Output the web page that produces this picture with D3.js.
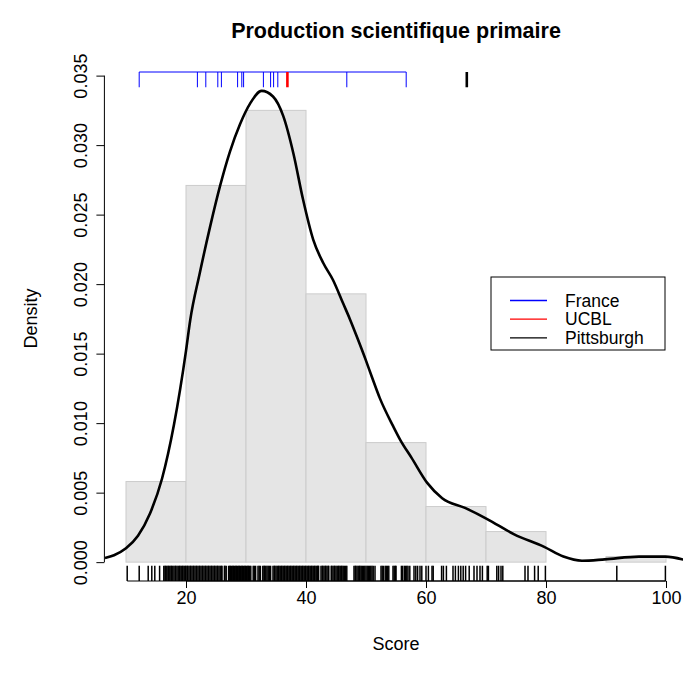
<!DOCTYPE html>
<html>
<head>
<meta charset="utf-8">
<script src="https://cdn.jsdelivr.net/npm/d3@7"></script>
<style>
  body { margin: 0; background: #fff; }
  text { font-family: "Liberation Sans", Arial, sans-serif; }
</style>
</head>
<body>
<script>
// histogram (breaks and densities)
var histBreaks = [10, 20, 30, 40, 50, 60, 70, 80, 90, 100];
var histDensity = [0.0058, 0.0271, 0.0325, 0.0193, 0.0086, 0.0040, 0.0022, 0, 0.0004];

// kernel density curve: score / density
var densX = [6.5, 8, 10, 12, 14, 16, 18, 20, 20.7, 22.3, 24.0, 25.7, 27.3, 29.0, 30.7, 32.6, 34.5, 36.2, 37.9, 39.5, 41.2, 42.9, 44.5, 46.2, 47.3, 48.5, 50.0, 51.0, 52.3, 54.5, 55.7, 57.6, 60.2, 62.7, 66.5, 70.2, 74.7, 79.7, 82.9, 86.0, 89.8, 95.5, 99.9, 103.6];
var densY = [0.0003, 0.0005, 0.0010, 0.0019, 0.0035, 0.0060, 0.0099, 0.0152, 0.0174, 0.0208, 0.0241, 0.0271, 0.0295, 0.0315, 0.0330, 0.0339, 0.0335, 0.0321, 0.0294, 0.0261, 0.0232, 0.0215, 0.0203, 0.0186, 0.0175, 0.0162, 0.0145, 0.0133, 0.0118, 0.0098, 0.0088, 0.0075, 0.0057, 0.0046, 0.0039, 0.0031, 0.0020, 0.0011, 0.0004, 0.0001, 0.0002, 0.0004, 0.0004, 0.0001];

// all scores (bottom rug)
var scores = [10.2, 12.2, 13.7, 14.3, 14.8, 15.6, 16.3,
  16.5,16.6,16.8,17.0,17.1,17.3,17.5,17.6,17.8,18.0,18.2,18.3,18.5,18.7,18.9,19.0,19.2,19.4,19.5,19.7,19.9,
  20.0,20.2,20.3,20.5,20.7,20.8,21.0,21.2,21.3,21.5,21.7,21.8,22.0,22.2,22.3,22.5,22.7,22.8,23.0,23.2,23.3,23.5,
  23.7,23.8,24.0,24.2,24.3,24.5,24.7,24.8,25.0,25.2,25.3,25.5,25.7,25.9,26.0,26.4,26.5,26.7,27.1,27.3,27.4,27.6,
  27.8,27.9,28.1,28.3,28.4,28.6,28.8,28.9,29.1,29.3,29.4,29.6,29.8,29.9,
  30.1,30.3,30.4,30.6,30.8,31.2,31.4,31.6,32.0,32.2,32.4,32.8,33.0,33.1,33.3,33.5,33.7,33.9,34.1,34.5,34.7,34.8,
  35.0,35.2,35.4,35.5,35.7,35.9,36.0,36.2,36.4,36.5,36.7,36.9,37.0,37.2,37.4,37.5,37.7,37.9,38.0,38.2,38.4,38.5,
  38.7,38.9,39.0,39.2,39.4,39.5,39.7,39.9,
  40.0,40.2,40.4,40.5,40.7,40.9,41.0,41.2,41.4,41.5,41.7,41.9,42.0,42.1,42.5,42.7,42.8,43.0,43.2,43.3,43.5,43.7,
  43.8,44.2,44.3,44.5,44.7,44.8,45.0,45.2,45.4,45.5,45.7,45.9,46.0,46.2,46.4,46.6,46.8,48.0,48.2,48.3,48.5,48.7,
  48.9,49.0,49.2,49.4,49.6,49.8,50.0,50.2,50.4,50.6,50.8,51.0,51.2,51.5,52.5,52.7,52.9,53.2,53.4,53.6,53.8,
  54.5,54.7,54.9,55.0,55.9,56.1,56.4,56.6,56.8,57.0,57.3,
  58.0, 58.3, 58.6, 59.0, 59.3, 60.0, 60.4, 61.0, 61.2, 62.6, 62.9, 63.4, 64.5, 64.9, 65.4, 65.8, 66.2, 66.6,
  67.2, 68.0, 68.5, 69.0, 69.4, 70.2, 70.4, 71.8, 72.1, 72.5, 72.8, 76.5, 77.0, 78.1, 78.7, 79.9, 91.8, 99.9];

// top rugs
var france = [12.2, 21.9, 23.3, 25.3, 25.9, 28.6, 29.3, 29.6, 32.9, 34.1, 34.6, 35.3, 46.8, 56.7];
var ucbl = [36.9];
var pittsburgh = [66.8];

var legendLabels = ["France", "UCBL", "Pittsburgh"];
var legendColors = ["#0000ff", "#ff0000", "#000000"];
var xTicks = [20, 40, 60, 80, 100];
var yTicks = [0, 0.005, 0.010, 0.015, 0.020, 0.025, 0.030, 0.035];

var width = 683, height = 677;
var plot = { left: 104.4, right: 687.6, top: 72, bottom: 581 };
var fontAxis = 18;

var x = d3.scaleLinear().domain([6.4, 103.6]).range([plot.left, plot.right]);
var y = d3.scaleLinear().domain([-0.001356, 0.03526]).range([plot.bottom, plot.top]);

var svg = d3.select("body").append("svg")
    .attr("width", width)
    .attr("height", height);

svg.append("defs").append("clipPath").attr("id", "clip")
  .append("rect")
    .attr("x", plot.left).attr("y", plot.top)
    .attr("width", plot.right - plot.left).attr("height", plot.bottom - plot.top);

// histogram bars
var bins = histDensity.map(function(d, i) {
  return { x0: histBreaks[i], x1: histBreaks[i + 1], d: d };
});
svg.append("g").selectAll("rect")
  .data(bins.filter(function(b) { return b.d > 0; }))
  .enter().append("rect")
    .attr("x", function(b) { return x(b.x0); })
    .attr("y", function(b) { return y(b.d); })
    .attr("width", function(b) { return x(b.x1) - x(b.x0); })
    .attr("height", function(b) { return y(0) - y(b.d); })
    .attr("fill", "#e5e5e5")
    .attr("stroke", "#cccccc")
    .attr("stroke-width", 1);

// density curve
var line = d3.line()
    .x(function(d, i) { return x(densX[i]); })
    .y(function(d) { return y(d); })
    .curve(d3.curveMonotoneX);
svg.append("path")
    .attr("clip-path", "url(#clip)")
    .attr("d", line(densY))
    .attr("fill", "none")
    .attr("stroke", "black")
    .attr("stroke-width", 2.6);

// rugs (ticksize 0.03 of plot height)
var tick = 0.03 * (plot.bottom - plot.top);
function rug(values, side, color, lw, baseLine) {
  var g = svg.append("g");
  var y0 = side === 1 ? plot.bottom : plot.top;
  var dir = side === 1 ? -1 : 1;
  if (baseLine) {
    g.append("line")
      .attr("x1", x(d3.min(values))).attr("x2", x(d3.max(values)))
      .attr("y1", y0).attr("y2", y0)
      .attr("stroke", color).attr("stroke-width", 1);
  }
  g.selectAll(".r").data(values).enter().append("line")
    .attr("x1", function(d) { return x(d); })
    .attr("x2", function(d) { return x(d); })
    .attr("y1", y0).attr("y2", y0 + dir * tick)
    .attr("stroke", color).attr("stroke-width", lw);
}
rug(scores, 1, "black", 1.5, true);
rug(france, 3, "blue", 1, true);
rug(ucbl, 3, "red", 2.6, false);
rug(pittsburgh, 3, "black", 2.6, false);

// x axis
var xAxis = svg.append("g")
    .attr("transform", "translate(0," + plot.bottom + ")")
    .call(d3.axisBottom(x).tickValues(xTicks).tickSize(7).tickPadding(3).tickSizeOuter(0));
xAxis.select(".domain").attr("d", "M" + x(20) + ",0H" + x(100));
xAxis.selectAll("text").attr("font-size", fontAxis).attr("fill", "black")
    .style("font-family", "Liberation Sans, Arial, sans-serif");

// y axis
var yAxis = svg.append("g")
    .attr("transform", "translate(" + plot.left + ",0)")
    .call(d3.axisLeft(y).tickValues(yTicks).tickFormat(d3.format(".3f")).tickSize(8).tickSizeOuter(0));
yAxis.select(".domain").attr("d", "M0," + y(0) + "V" + y(0.035));
yAxis.selectAll("text")
    .attr("font-size", fontAxis).attr("fill", "black")
    .style("font-family", "Liberation Sans, Arial, sans-serif")
    .attr("text-anchor", "middle")
    .attr("dy", null)
    .attr("x", null)
    .attr("transform", "translate(-17,0) rotate(-90)")
    .attr("y", 0);

// titles
svg.append("text")
    .attr("x", (plot.left + plot.right) / 2).attr("y", 38)
    .attr("text-anchor", "middle")
    .attr("font-size", 21.5).attr("font-weight", "bold")
    .text("Production scientifique primaire");
svg.append("text")
    .attr("x", (plot.left + plot.right) / 2).attr("y", 650)
    .attr("text-anchor", "middle")
    .attr("font-size", fontAxis)
    .text("Score");
svg.append("text")
    .attr("transform", "translate(37," + ((plot.top + plot.bottom) / 2 - 8) + ") rotate(-90)")
    .attr("text-anchor", "middle")
    .attr("font-size", fontAxis)
    .text("Density");

// legend
var legend = svg.append("g");
legend.append("rect")
    .attr("x", 491).attr("y", 277).attr("width", 174).attr("height", 73)
    .attr("fill", "white").attr("stroke", "black").attr("stroke-width", 1);
legendLabels.forEach(function(lab, i) {
  var ly = 300.5 + i * 18.7;
  legend.append("line")
    .attr("x1", 510).attr("x2", 547).attr("y1", ly).attr("y2", ly)
    .attr("stroke", legendColors[i]).attr("stroke-width", 1.3);
  legend.append("text")
    .attr("x", 565).attr("y", ly + 6.2)
    .attr("font-size", 17.5)
    .text(lab);
});
</script>
</body>
</html>
